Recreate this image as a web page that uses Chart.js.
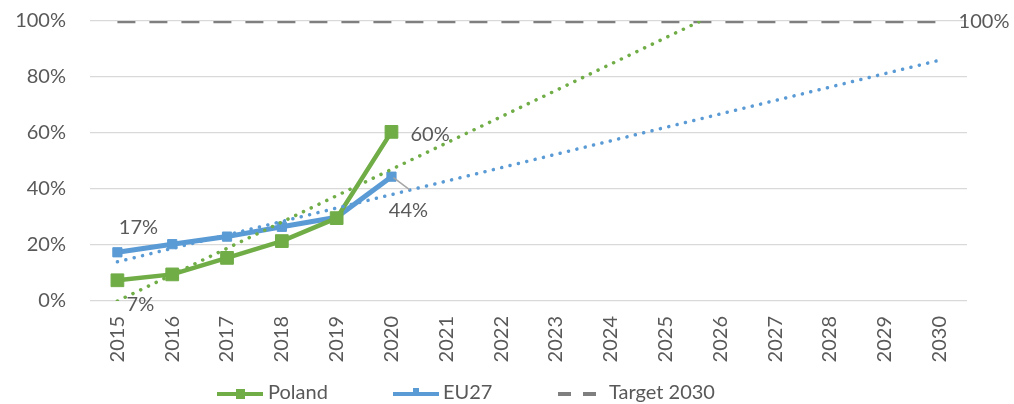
<!DOCTYPE html>
<html><head><meta charset="utf-8">
<script src="https://cdn.jsdelivr.net/npm/chart.js@4"></script>
<style>html,body{margin:0;padding:0;background:#fff}</style>
</head><body>
<canvas id="c" width="1014" height="404" style="width:1014px;height:404px;display:block"></canvas>
<script>
const years = ['2015','2016','2017','2018','2019','2020','2021','2022','2023','2024','2025','2026','2027','2028','2029','2030'];
const poland = [7.4, 9.5, 15.4, 21.4, 29.6, 60.4];
const eu27 = [17.4, 20.3, 23.0, 26.5, 29.9, 44.4];
const target2030 = [100,100,100,100,100,100,100,100,100,100,100,100,100,100,100,100];
const polandTrend = [0, 9.4, 18.8, 28.2, 37.6, 47.0, 56.4, 65.8, 75.2, 84.6, 94.0, 103.4, 112.8, 122.2, 131.6, 141.0];
const euTrend = [14.0, 18.8, 23.6, 28.4, 33.2, 38.0, 42.8, 47.6, 52.4, 57.2, 62.0, 66.8, 71.6, 76.4, 81.2, 86.0];
const yTicks = [0, 20, 40, 60, 80, 100];

const GREEN = '#70ad47', BLUE = '#5b9bd5', GRAY = '#7f7f7f', TXT = '#595959';
const FONT = 'Lato';
const FS = 20;

const overlay = {
  id: 'overlay',
  afterDatasetsDraw(chart) {
    const ctx = chart.ctx;
    ctx.save();
    ctx.font = FS + 'px ' + FONT;
    ctx.fillStyle = TXT;
    ctx.textBaseline = 'middle';
    const pt = (ds, i) => chart.getDatasetMeta(ds).data[i];
    const fmt = v => Math.round(v) + '%';
    let p = pt(1, 0);
    ctx.textAlign = 'center';
    ctx.fillText(fmt(eu27[0]), p.x + 21, p.y - 25);
    p = pt(0, 0);
    ctx.fillText(fmt(poland[0]), p.x + 23, p.y + 24);
    p = pt(0, 5);
    ctx.textAlign = 'left';
    ctx.fillText(fmt(poland[5]), p.x + 19, p.y + 3);
    p = pt(1, 5);
    ctx.strokeStyle = '#a6a6a6';
    ctx.lineWidth = 1.5;
    ctx.beginPath();
    ctx.moveTo(p.x + 2, p.y + 1);
    ctx.lineTo(p.x + 18, p.y + 13);
    ctx.stroke();
    ctx.textAlign = 'center';
    ctx.fillText(fmt(eu27[5]), p.x + 17, p.y + 34);
    p = pt(2, 15);
    ctx.textAlign = 'left';
    ctx.fillText(fmt(target2030[15]), p.x + 19, p.y + 1);

    const ly = 394;
    ctx.lineCap = 'butt';
    ctx.lineWidth = 4;
    ctx.strokeStyle = GREEN;
    ctx.beginPath(); ctx.moveTo(217, ly); ctx.lineTo(263, ly); ctx.stroke();
    ctx.fillStyle = GREEN;
    ctx.fillRect(236, ly - 5, 9, 10);
    ctx.strokeStyle = BLUE;
    ctx.beginPath(); ctx.moveTo(393, ly); ctx.lineTo(439, ly); ctx.stroke();
    ctx.fillStyle = BLUE;
    ctx.fillRect(413, ly - 6, 6, 6);
    ctx.strokeStyle = GRAY;
    ctx.setLineDash([13, 12]);
    ctx.beginPath(); ctx.moveTo(558, ly); ctx.lineTo(596, ly); ctx.stroke();
    ctx.setLineDash([]);
    ctx.fillStyle = TXT;
    ctx.textAlign = 'left';
    ctx.fillText('Poland', 268, ly - 1);
    ctx.fillText('EU27', 443, ly - 1);
    ctx.fillText('Target 2030', 609, ly - 1);
    ctx.restore();
  }
};

new Chart(document.getElementById('c'), {
  type: 'line',
  data: {
    labels: years,
    datasets: [
      { label: 'Poland', data: poland, borderColor: GREEN, backgroundColor: GREEN, borderWidth: 4.5,
        pointStyle: 'rect', pointRadius: 9, pointBackgroundColor: GREEN, pointBorderColor: GREEN, pointBorderWidth: 1, order: 2 },
      { label: 'EU27', data: eu27, borderColor: BLUE, backgroundColor: BLUE, borderWidth: 5,
        pointStyle: 'rect', pointRadius: 6.5, pointBackgroundColor: BLUE, pointBorderColor: BLUE, pointBorderWidth: 1, order: 3 },
      { label: 'Target 2030', data: target2030, borderColor: GRAY, borderWidth: 4.5, borderDash: [18, 14],
        pointRadius: 0, order: 4 },
      { label: 'Poland trend', data: polandTrend, borderColor: GREEN, borderWidth: 3.5, borderDash: [0.1, 8.5],
        borderCapStyle: 'round', pointRadius: 0, order: 1 },
      { label: 'EU27 trend', data: euTrend, borderColor: BLUE, borderWidth: 3.5, borderDash: [0.1, 8.5],
        borderCapStyle: 'round', pointRadius: 0, order: 1 }
    ]
  },
  options: {
    responsive: false,
    animation: false,
    devicePixelRatio: 1,
    elements: { line: { tension: 0 } },
    layout: { padding: { left: 0, right: 47, top: 21, bottom: 38 } },
    plugins: { legend: { display: false }, tooltip: { enabled: false } },
    scales: {
      x: {
        offset: true,
        grid: { display: false, drawTicks: false },
        border: { display: false },
        ticks: { color: TXT, font: { family: FONT, size: FS }, minRotation: 90, maxRotation: 90, padding: 15, autoSkip: false },
        afterFit(s) { s.height = 65; s.paddingLeft = 0; s.paddingRight = 0; }
      },
      y: {
        min: 0, max: 100,
        afterBuildTicks(s) { s.ticks = yTicks.map(v => ({ value: v })); },
        grid: { color: '#d9d9d9', lineWidth: 1.3, drawTicks: false },
        border: { display: false },
        ticks: { color: TXT, font: { family: FONT, size: FS }, padding: 24, callback: v => v + '%' },
        afterFit(s) { s.width = 90; s.paddingTop = 0; s.paddingBottom = 0; }
      }
    }
  },
  plugins: [overlay]
});
</script>
</body></html>
